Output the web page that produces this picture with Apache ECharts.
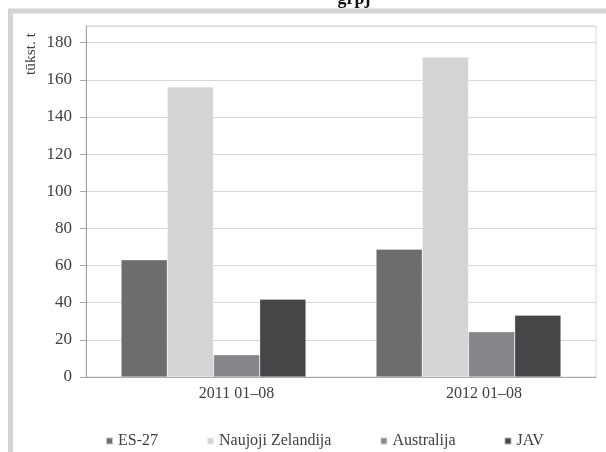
<!DOCTYPE html>
<html><head><meta charset="utf-8">
<script src="https://cdn.jsdelivr.net/npm/echarts@6/dist/echarts.min.js"></script>
<style>html,body{margin:0;padding:0;background:#fff}#c{width:606px;height:452px}</style>
</head><body><div id="c"></div>
<script>
const categories = ['2011 01–08', '2012 01–08'];
const seriesNames = ['ES-27', 'Naujoji Zelandija', 'Australija', 'JAV'];
const es27 = [63.1, 68.8];
const naujojiZelandija = [156.2, 172.3];
const australija = [12.0, 24.4];
const jav = [41.9, 33.3];
const yAxisName = 'tūkst. t';
const titleText = 'grpj';

const colors = ['#6d6d6f', '#d3d4d6', '#86878a', '#454648'];
const values = [es27, naujojiZelandija, australija, jav];
const font = 'Liberation Serif';
const chart = echarts.init(document.getElementById('c'), null, {renderer: 'canvas'});
chart.setOption({
  animation: false,
  backgroundColor: '#fff',
  color: colors,
  textStyle: {fontFamily: font},
  grid: {left: 86, right: 10, top: 26, bottom: 75, show: true, borderColor: '#d9d9d9', borderWidth: 1},
  legend: {
    left: 100, top: 428, itemWidth: 7, itemHeight: 7, itemGap: 48,
    icon: 'rect',
    textStyle: {fontFamily: font, fontSize: 16, color: '#404040', padding: [0, 0, 0, 0]},
    data: seriesNames
  },
  xAxis: {
    type: 'category', data: categories,
    axisLine: {lineStyle: {color: '#a6a6a6'}},
    axisTick: {show: false},
    axisLabel: {
      fontFamily: font, fontSize: 16, color: '#404040', margin: 9,
      formatter: (v, i) => i === 0 ? '{a|' + v + '}' : '{b|' + v + '}',
      rich: {
        a: {fontFamily: font, fontSize: 16, color: '#404040', padding: [0, 0, 0, 46]},
        b: {fontFamily: font, fontSize: 16, color: '#404040', padding: [0, 0, 4, 31]}
      }
    }
  },
  yAxis: {
    type: 'value', min: 0, max: 189, interval: 20,
    axisLine: {show: true, lineStyle: {color: '#a6a6a6'}},
    axisTick: {show: true, length: 6, lineStyle: {color: '#a6a6a6'}},
    axisLabel: {fontFamily: font, fontSize: 17, color: '#404040', margin: 14, showMaxLabel: false},
    splitLine: {lineStyle: {color: '#d9d9d9'}}
  },
  series: seriesNames.map((n, i) => ({
    name: n, type: 'bar', data: values[i],
    barGap: '0%', barCategoryGap: '27.5%',
    itemStyle: {color: colors[i], borderColor: 'rgba(255,255,255,0.6)', borderWidth: 0.5}
  })),
  graphic: [
    {type: 'rect', shape: {x: 10.5, y: 11, width: 700, height: 500}, style: {fill: 'none', stroke: '#d4d4d4', lineWidth: 5}, z: -1},
    {type: 'text', x: 31, y: 54, rotation: Math.PI / 2, style: {text: yAxisName, font: '15.5px "Liberation Serif"', fill: '#404040', textAlign: 'center', textVerticalAlign: 'middle'}},
    {type: 'text', x: 354, y: -10, style: {text: titleText, font: 'bold 18px "Liberation Serif"', fill: '#111', textAlign: 'center', textVerticalAlign: 'top'}}
  ]
});
</script></body></html>
